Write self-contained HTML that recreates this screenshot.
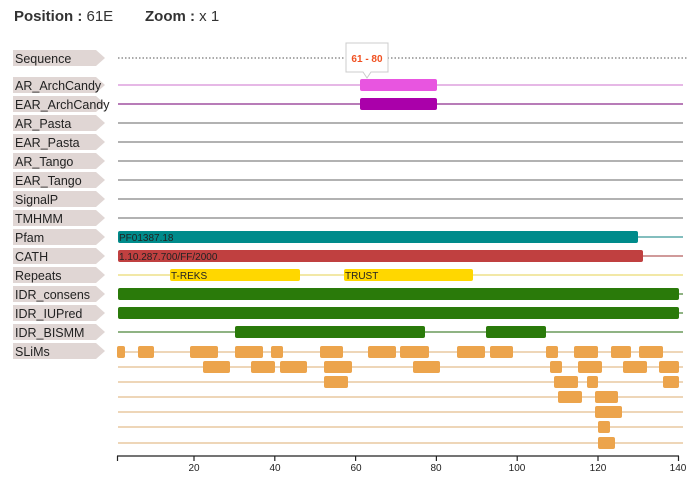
<!DOCTYPE html>
<html><head><meta charset="utf-8"><style>
body{margin:0;background:#fff;width:700px;height:481px;overflow:hidden}
svg{display:block;font-family:"Liberation Sans",sans-serif}
.l{font-size:12.5px;fill:#222}
</style></head><body>
<svg width="700" height="481" viewBox="0 0 700 481">
<text x="14" y="21" font-size="15" font-weight="bold" fill="#333">Position : <tspan font-weight="normal">61E</tspan></text>
<text x="145" y="21" font-size="15" font-weight="bold" fill="#333">Zoom : <tspan font-weight="normal">x 1</tspan></text>
<g id="labels">
<script>/* none */</script>
</g>
<!-- labels -->
<g fill="#e0d6d4">
<path d="M13 50h83l9 8l-9 8h-83z"/>
<path d="M13 77h83l9 8l-9 8h-83z"/>
<path d="M13 96h83l9 8l-9 8h-83z"/>
<path d="M13 115h83l9 8l-9 8h-83z"/>
<path d="M13 134h83l9 8l-9 8h-83z"/>
<path d="M13 153h83l9 8l-9 8h-83z"/>
<path d="M13 172h83l9 8l-9 8h-83z"/>
<path d="M13 191h83l9 8l-9 8h-83z"/>
<path d="M13 210h83l9 8l-9 8h-83z"/>
<path d="M13 229h83l9 8l-9 8h-83z"/>
<path d="M13 248h83l9 8l-9 8h-83z"/>
<path d="M13 267h83l9 8l-9 8h-83z"/>
<path d="M13 286h83l9 8l-9 8h-83z"/>
<path d="M13 305h83l9 8l-9 8h-83z"/>
<path d="M13 324h83l9 8l-9 8h-83z"/>
<path d="M13 343h83l9 8l-9 8h-83z"/>
</g>
<g class="l">
<text x="15" y="63">Sequence</text>
<text x="15" y="90">AR_ArchCandy</text>
<text x="15" y="109">EAR_ArchCandy</text>
<text x="15" y="128">AR_Pasta</text>
<text x="15" y="147">EAR_Pasta</text>
<text x="15" y="166">AR_Tango</text>
<text x="15" y="185">EAR_Tango</text>
<text x="15" y="204">SignalP</text>
<text x="15" y="223">TMHMM</text>
<text x="15" y="242">Pfam</text>
<text x="15" y="261">CATH</text>
<text x="15" y="280">Repeats</text>
<text x="15" y="299">IDR_consens</text>
<text x="15" y="318">IDR_IUPred</text>
<text x="15" y="337">IDR_BISMM</text>
<text x="15" y="356">SLiMs</text>
</g>
<line x1="118" y1="58" x2="688" y2="58" stroke="#555" stroke-dasharray="1.5,2" stroke-width="1"/>
<g stroke-width="1.5">
<line x1="118" y1="85" x2="683" y2="85" stroke="#dda0dd"/>
<line x1="118" y1="104" x2="683" y2="104" stroke="#a050a0"/>
<line x1="118" y1="123" x2="683" y2="123" stroke="#999"/>
<line x1="118" y1="142" x2="683" y2="142" stroke="#999"/>
<line x1="118" y1="161" x2="683" y2="161" stroke="#999"/>
<line x1="118" y1="180" x2="683" y2="180" stroke="#999"/>
<line x1="118" y1="199" x2="683" y2="199" stroke="#999"/>
<line x1="118" y1="218" x2="683" y2="218" stroke="#999"/>
<line x1="118" y1="237" x2="683" y2="237" stroke="#5aa8a8"/>
<line x1="118" y1="256" x2="683" y2="256" stroke="#c07878"/>
<line x1="118" y1="275" x2="683" y2="275" stroke="#eee08a"/>
<line x1="118" y1="294" x2="683" y2="294" stroke="#6a9a5a"/>
<line x1="118" y1="313" x2="683" y2="313" stroke="#6a9a5a"/>
<line x1="118" y1="332" x2="683" y2="332" stroke="#6a9a5a"/>
</g>
<g stroke="#e8c9a0" stroke-width="1.5">
<line x1="118" y1="352" x2="683" y2="352"/><line x1="118" y1="367" x2="683" y2="367"/>
<line x1="118" y1="382" x2="683" y2="382"/><line x1="118" y1="397" x2="683" y2="397"/>
<line x1="118" y1="412" x2="683" y2="412"/><line x1="118" y1="427" x2="683" y2="427"/>
<line x1="118" y1="443" x2="683" y2="443"/>
</g>
<rect x="360" y="79" width="77" height="12" rx="2" fill="#e855e0"/>
<rect x="360" y="98" width="77" height="12" rx="2" fill="#aa00aa"/>
<rect x="118" y="231" width="520" height="12" rx="2" fill="#008b8b"/>
<rect x="118" y="250" width="525" height="12" rx="2" fill="#c04040"/>
<rect x="170" y="269" width="130" height="12" rx="2" fill="#ffd700"/>
<rect x="344" y="269" width="129" height="12" rx="2" fill="#ffd700"/>
<rect x="118" y="288" width="561" height="12" rx="2" fill="#2a7a0a"/>
<rect x="118" y="307" width="561" height="12" rx="2" fill="#2a7a0a"/>
<rect x="235" y="326" width="190" height="12" rx="2" fill="#2a7a0a"/>
<rect x="486" y="326" width="60" height="12" rx="2" fill="#2a7a0a"/>
<g font-size="10" fill="#222">
<text x="119" y="241">PF01387.18</text>
<text x="119" y="260">1.10.287.700/FF/2000</text>
<text x="171" y="279">T-REKS</text>
<text x="345" y="279">TRUST</text>
</g>
<g fill="#eca44c">
<rect x="117" y="346" width="8" height="12" rx="2"/><rect x="138" y="346" width="16" height="12" rx="2"/>
<rect x="190" y="346" width="28" height="12" rx="2"/><rect x="235" y="346" width="28" height="12" rx="2"/>
<rect x="271" y="346" width="12" height="12" rx="2"/><rect x="320" y="346" width="23" height="12" rx="2"/>
<rect x="368" y="346" width="28" height="12" rx="2"/><rect x="400" y="346" width="29" height="12" rx="2"/>
<rect x="457" y="346" width="28" height="12" rx="2"/><rect x="490" y="346" width="23" height="12" rx="2"/>
<rect x="546" y="346" width="12" height="12" rx="2"/><rect x="574" y="346" width="24" height="12" rx="2"/>
<rect x="611" y="346" width="20" height="12" rx="2"/><rect x="639" y="346" width="24" height="12" rx="2"/>
<rect x="203" y="361" width="27" height="12" rx="2"/><rect x="251" y="361" width="24" height="12" rx="2"/>
<rect x="280" y="361" width="27" height="12" rx="2"/><rect x="324" y="361" width="28" height="12" rx="2"/>
<rect x="413" y="361" width="27" height="12" rx="2"/><rect x="550" y="361" width="12" height="12" rx="2"/>
<rect x="578" y="361" width="24" height="12" rx="2"/><rect x="623" y="361" width="24" height="12" rx="2"/>
<rect x="659" y="361" width="20" height="12" rx="2"/>
<rect x="324" y="376" width="24" height="12" rx="2"/><rect x="554" y="376" width="24" height="12" rx="2"/>
<rect x="587" y="376" width="11" height="12" rx="2"/><rect x="663" y="376" width="16" height="12" rx="2"/>
<rect x="558" y="391" width="24" height="12" rx="2"/><rect x="595" y="391" width="23" height="12" rx="2"/>
<rect x="595" y="406" width="27" height="12" rx="2"/>
<rect x="598" y="421" width="12" height="12" rx="2"/>
<rect x="598" y="437" width="17" height="12" rx="2"/>
</g>
<path d="M346 43h42v29h-17l-4 6l-4-6h-17z" fill="#fff" stroke="#ccc"/>
<text x="367" y="62" font-size="10" font-weight="bold" fill="#f05020" text-anchor="middle">61 - 80</text>
<g stroke="#222" stroke-width="1.2">
<line x1="117" y1="456" x2="679" y2="456"/>
<line x1="117.5" y1="456" x2="117.5" y2="461"/>
<line x1="194" y1="456" x2="194" y2="461"/><line x1="274.8" y1="456" x2="274.8" y2="461"/>
<line x1="355.6" y1="456" x2="355.6" y2="461"/><line x1="436.4" y1="456" x2="436.4" y2="461"/>
<line x1="517.2" y1="456" x2="517.2" y2="461"/><line x1="598" y1="456" x2="598" y2="461"/>
<line x1="678.5" y1="456" x2="678.5" y2="461"/>
</g>
<g font-size="10" fill="#222" text-anchor="middle">
<text x="194" y="471">20</text><text x="275" y="471">40</text><text x="356" y="471">60</text>
<text x="436" y="471">80</text><text x="517" y="471">100</text><text x="598" y="471">120</text><text x="678" y="471">140</text>
</g>
</svg>
</body></html>
